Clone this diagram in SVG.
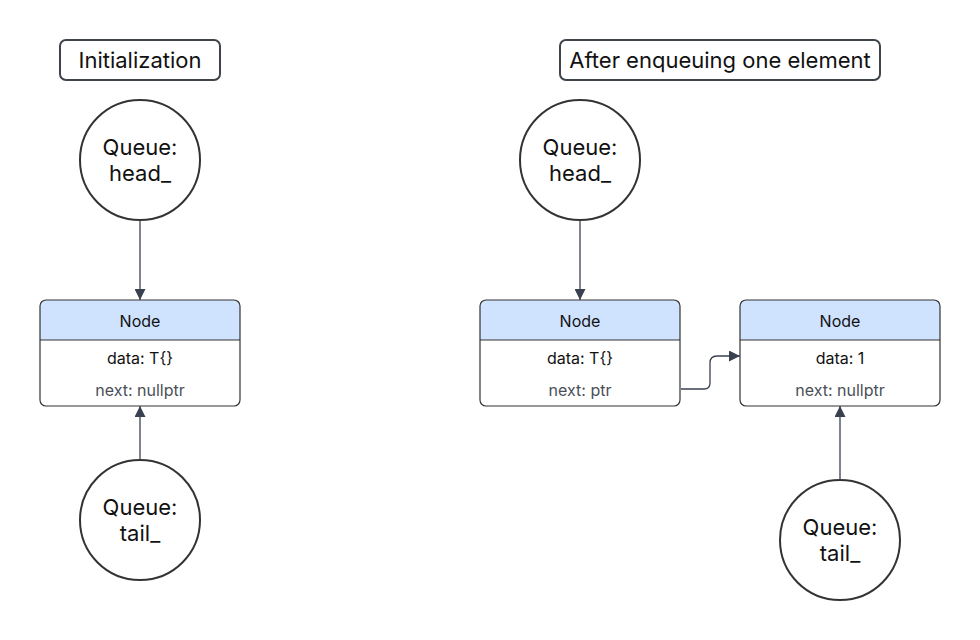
<svg xmlns="http://www.w3.org/2000/svg" width="980" height="640" viewBox="0 0 980 640">
<defs>
<marker id="arr" viewBox="0 0 10 10" refX="10" refY="5" markerWidth="11" markerHeight="11" markerUnits="userSpaceOnUse" orient="auto">
<path d="M0,0 L10,5 L0,10 z" fill="#394150"/>
</marker>
<clipPath id="c1"><rect x="40" y="300" width="200" height="106" rx="6"/></clipPath>
<clipPath id="c2"><rect x="480" y="300" width="200" height="106" rx="6"/></clipPath>
<clipPath id="c3"><rect x="740" y="300" width="200" height="106" rx="6"/></clipPath>
</defs>
<style>
text{font-family:Inter,"Noto Sans","Liberation Sans",sans-serif;fill:#111;text-anchor:middle}
.title rect{fill:#fff;stroke:#3f434a;stroke-width:2}
.title text{font-size:22px}
.circ circle{fill:#fff;stroke:#333;stroke-width:2}
.circ text{font-size:22px}
.box rect.hdr{fill:#cfe2fe}
.box rect.out{fill:none;stroke:#333;stroke-width:1.2}
.box line{stroke:#333;stroke-width:1.2}
.box text{font-size:16px}
.box text.nx{fill:#4a4f58}
.conn path{fill:none;stroke:#394150;stroke-width:1.3}
</style>
<rect width="980" height="640" fill="#fff"/>
<g id="title-init" class="title"><rect x="60" y="40" width="160" height="40" rx="6"/><text x="140" y="68">Initialization</text></g>
<g id="title-after" class="title"><rect x="560" y="40" width="320" height="40" rx="6"/><text x="720" y="68">After enqueuing one element</text></g>

<g id="head-left" class="circ"><circle cx="140" cy="160" r="60"/><text x="140" y="155">Queue:</text><text x="140" y="181">head_</text></g>
<g id="tail-left" class="circ"><circle cx="140" cy="520" r="60"/><text x="140" y="515">Queue:</text><text x="140" y="541">tail_</text></g>
<g id="head-right" class="circ"><circle cx="580" cy="160" r="60"/><text x="580" y="155">Queue:</text><text x="580" y="181">head_</text></g>
<g id="tail-right" class="circ"><circle cx="840" cy="540" r="60"/><text x="840" y="535">Queue:</text><text x="840" y="561">tail_</text></g>

<g id="node-left" class="box">
<rect class="hdr" x="40" y="300" width="200" height="40" clip-path="url(#c1)"/>
<rect class="out" x="40" y="300" width="200" height="106" rx="6"/>
<line x1="40" y1="340" x2="240" y2="340"/>
<text x="140" y="327">Node</text>
<text x="140" y="364">data: T{}</text>
<text class="nx" x="140" y="396">next: nullptr</text>
</g>
<g id="node-mid" class="box">
<rect class="hdr" x="480" y="300" width="200" height="40" clip-path="url(#c2)"/>
<rect class="out" x="480" y="300" width="200" height="106" rx="6"/>
<line x1="480" y1="340" x2="680" y2="340"/>
<text x="580" y="327">Node</text>
<text x="580" y="364">data: T{}</text>
<text class="nx" x="580" y="396">next: ptr</text>
</g>
<g id="node-right" class="box">
<rect class="hdr" x="740" y="300" width="200" height="40" clip-path="url(#c3)"/>
<rect class="out" x="740" y="300" width="200" height="106" rx="6"/>
<line x1="740" y1="340" x2="940" y2="340"/>
<text x="840" y="327">Node</text>
<text x="840" y="364">data: 1</text>
<text class="nx" x="840" y="396">next: nullptr</text>
</g>

<g id="connectors" class="conn">
<path d="M140,220 L140,300" marker-end="url(#arr)"/>
<path d="M140,460 L140,406" marker-end="url(#arr)"/>
<path d="M580,220 L580,300" marker-end="url(#arr)"/>
<path d="M840,480 L840,406" marker-end="url(#arr)"/>
<path d="M681,389 L704,389 Q710,389 710,383 L710,363 Q710,356 717,356 L740,356" marker-end="url(#arr)"/>
</g>
</svg>
